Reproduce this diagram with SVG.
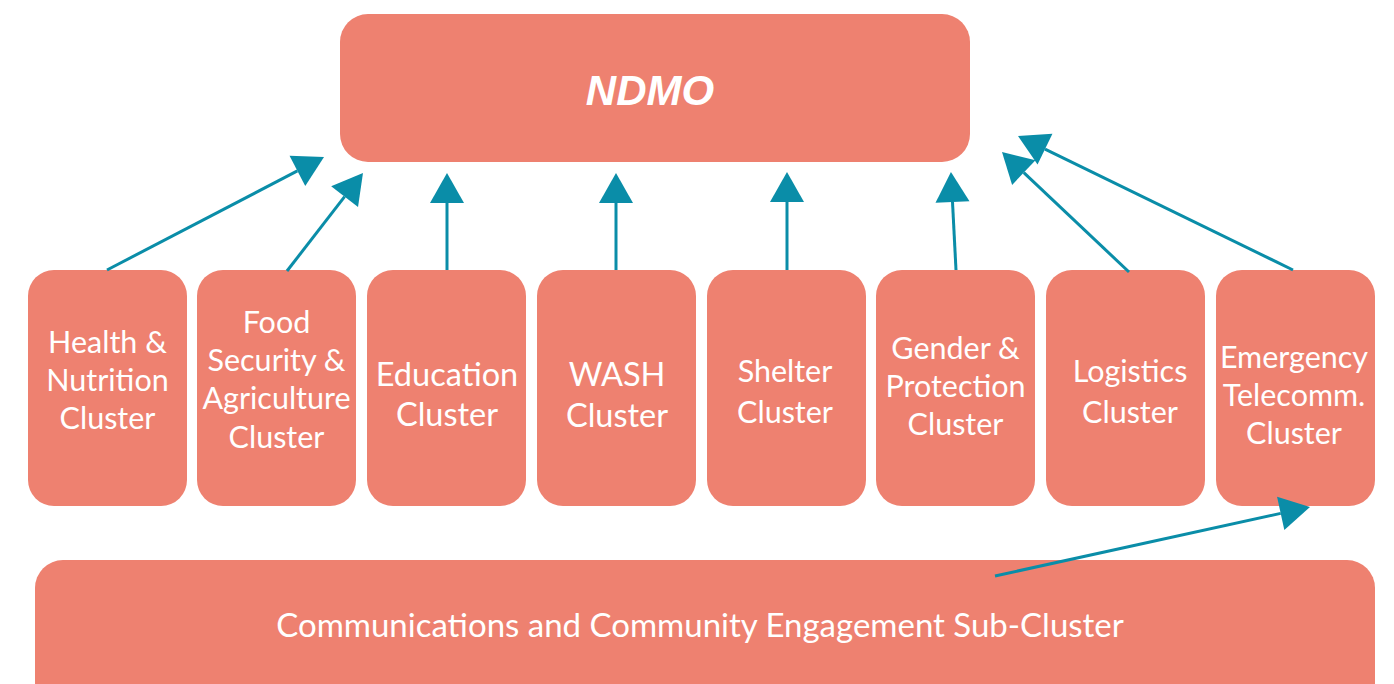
<svg xmlns="http://www.w3.org/2000/svg" width="1394" height="684" viewBox="0 0 1394 684">
<style>
.box{fill:#EE8170;}
.lbl{font-family:Lato,"Open Sans","Liberation Sans",sans-serif;font-size:30.5px;fill:#ffffff;text-anchor:middle;}
.big{font-size:32.5px;}
.title{font-family:"Liberation Sans",Arial,sans-serif;font-weight:bold;font-style:italic;font-size:42px;fill:#ffffff;text-anchor:middle;}
.conn{stroke:#0A8DA8;stroke-width:3;fill:none;marker-end:url(#ah);}
</style>
<defs>
<marker id="ah" viewBox="0 0 30 34" refX="0" refY="17" markerWidth="30" markerHeight="34" markerUnits="userSpaceOnUse" orient="auto" overflow="visible">
<path d="M0,0 L30,17 L0,34 Z" fill="#0A8DA8"/>
</marker>
</defs>
<rect width="1394" height="684" fill="#ffffff"/>
<g id="ndmo"><rect class="box" x="340" y="14" width="630" height="148" rx="28"/><text class="title" x="650" y="105">NDMO</text></g>
<g id="health"><rect class="box" x="28" y="270" width="159" height="236" rx="26"/><text class="lbl" x="107.5" y="353">Health &amp;</text><text class="lbl" x="107.5" y="391">Nutrition</text><text class="lbl" x="107.5" y="429">Cluster</text></g>
<g id="food"><rect class="box" x="197" y="270" width="159" height="236" rx="26"/><text class="lbl" x="276.5" y="333">Food</text><text class="lbl" x="276.5" y="371">Security &amp;</text><text class="lbl" x="276.5" y="409">Agriculture</text><text class="lbl" x="276.5" y="448">Cluster</text></g>
<g id="education"><rect class="box" x="367" y="270" width="159" height="236" rx="26"/><text class="lbl big" x="447" y="386">Education</text><text class="lbl big" x="447" y="426">Cluster</text></g>
<g id="wash"><rect class="box" x="537" y="270" width="159" height="236" rx="26"/><text class="lbl big" x="617" y="386">WASH</text><text class="lbl big" x="617" y="427">Cluster</text></g>
<g id="shelter"><rect class="box" x="707" y="270" width="159" height="236" rx="26"/><text class="lbl" x="785" y="382">Shelter</text><text class="lbl" x="785" y="423">Cluster</text></g>
<g id="gender"><rect class="box" x="876" y="270" width="159" height="236" rx="26"/><text class="lbl" x="955.5" y="359">Gender &amp;</text><text class="lbl" x="955.5" y="397">Protection</text><text class="lbl" x="955.5" y="435">Cluster</text></g>
<g id="logistics"><rect class="box" x="1046" y="270" width="159" height="236" rx="26"/><text class="lbl" x="1130" y="382">Logistics</text><text class="lbl" x="1130" y="423">Cluster</text></g>
<g id="emergency"><rect class="box" x="1216" y="270" width="159" height="236" rx="26"/><text class="lbl" x="1294" y="368">Emergency</text><text class="lbl" x="1294" y="406">Telecomm.</text><text class="lbl" x="1294" y="444">Cluster</text></g>
<g id="cce"><rect class="box" x="35" y="560" width="1340" height="160" rx="28"/><text class="lbl" x="700" y="637" style="font-size:33px">Communications and Community Engagement Sub-Cluster</text></g>
<g id="connectors">
<line class="conn" x1="107" y1="270" x2="297.4" y2="170.9"/>
<line class="conn" x1="287" y1="271" x2="344.6" y2="196.7"/>
<line class="conn" x1="447" y1="270" x2="447" y2="203"/>
<line class="conn" x1="616" y1="270" x2="616" y2="203"/>
<line class="conn" x1="787" y1="270" x2="787" y2="202"/>
<line class="conn" x1="956" y1="270" x2="952.5" y2="202"/>
<line class="conn" x1="1129" y1="272" x2="1023.8" y2="172.6"/>
<line class="conn" x1="1293" y1="270" x2="1045" y2="149.1"/>
<line class="conn" x1="995" y1="576" x2="1280.7" y2="513.4"/>
</g>
</svg>
